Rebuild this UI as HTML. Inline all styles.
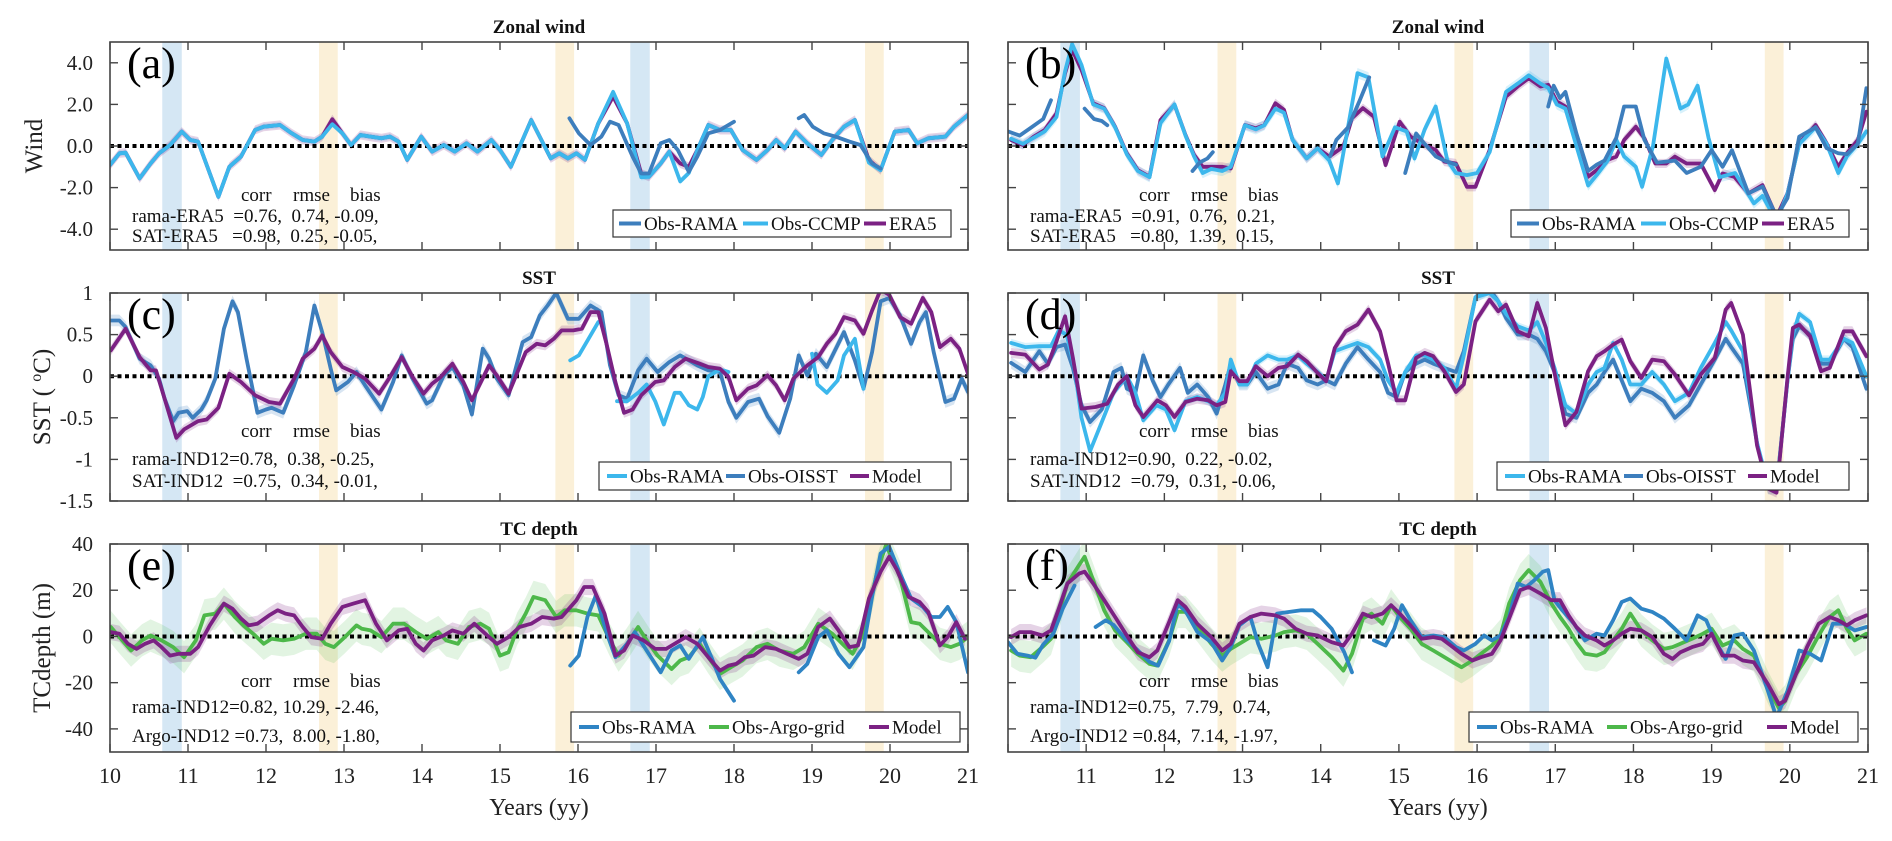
<!DOCTYPE html>
<html><head><meta charset="utf-8">
<style>
html,body{margin:0;padding:0;background:#fff;}
svg{display:block;font-family:"Liberation Serif","DejaVu Serif",serif;}
</style></head>
<body>
<svg id="fig" width="1892" height="841" viewBox="0 0 1892 841" xmlns="http://www.w3.org/2000/svg"></svg>
<script>
// ---------------- DATA ----------------
const aEraT=[10.00,10.12,10.20,10.38,10.52,10.63,10.77,10.92,11.03,11.13,11.39,11.53,11.68,11.86,11.97,12.18,12.33,12.47,12.62,12.72,12.85,12.98,13.09,13.21,13.34,13.48,13.59,13.70,13.81,13.99,14.13,14.28,14.42,14.57,14.71,14.89,15.00,15.14,15.40,15.65,15.76,15.87,15.98,16.09,16.26,16.45,16.63,16.81,16.91,17.06,17.17,17.31,17.42,17.53,17.67,17.82,17.96,18.11,18.29,18.43,18.54,18.65,18.79,18.94,19.12,19.26,19.41,19.55,19.73,19.88,20.06,20.24,20.35,20.49,20.71,20.82,21.00];
const aEraV=[-0.92,-0.35,-0.32,-1.56,-0.84,-0.35,0.05,0.69,0.29,0.21,-2.44,-1.0,-0.51,0.77,0.93,1.01,0.61,0.29,0.21,0.45,1.29,0.61,0.05,0.53,0.45,0.37,0.45,0.21,-0.67,0.45,-0.27,0.05,-0.27,0.13,-0.27,0.29,-0.19,-1.0,1.25,-0.59,-0.35,-0.59,-0.35,-0.67,1.09,2.38,1.09,-1.32,-1.48,-0.84,-0.27,-0.84,-1.0,-0.19,1.01,0.77,0.77,-0.19,-0.67,-0.19,0.29,-0.11,0.69,0.13,-0.43,0.29,0.93,1.25,-0.67,-1.16,0.69,0.77,0.13,0.37,0.45,0.93,1.49];
const aCcmpV=[-0.92,-0.35,-0.32,-1.56,-0.84,-0.35,0.05,0.69,0.29,0.21,-2.44,-1.0,-0.51,0.77,0.93,1.01,0.61,0.29,0.21,0.45,1.05,0.61,0.05,0.53,0.45,0.37,0.45,0.21,-0.67,0.45,-0.27,0.05,-0.27,0.13,-0.27,0.29,-0.19,-1.0,1.25,-0.59,-0.35,-0.59,-0.35,-0.67,1.09,2.6,1.09,-1.5,-1.48,-0.84,-0.27,-1.7,-1.3,-0.19,1.01,0.77,0.77,-0.19,-0.67,-0.19,0.29,-0.11,0.69,0.13,-0.43,0.29,0.93,1.25,-0.8,-1.16,0.69,0.77,0.13,0.37,0.45,0.93,1.49];
const aRamaT=[15.89,16.01,16.16,16.30,16.41,16.52,16.70,16.81,16.91,17.06,17.17,17.28,17.42,17.53,17.67,17.82,18.00,18.4,18.83,18.90,19.01,19.15,19.30,19.48,19.62,19.77,19.88];
const aRamaV=[1.33,0.61,0.05,0.45,1.17,1.01,-0.51,-1.32,-1.32,0.13,0.29,-0.19,-1.24,-0.51,0.61,0.77,1.17,null,1.33,1.49,0.93,0.61,0.45,0.21,0.05,-0.84,-1.08];

const bEraT=[10.04,10.19,10.33,10.47,10.62,10.73,10.82,10.94,11.09,11.23,11.37,11.52,11.66,11.81,11.95,12.13,12.27,12.38,12.49,12.60,12.74,12.85,13.03,13.17,13.28,13.42,13.53,13.64,13.82,13.96,14.11,14.29,14.40,14.54,14.68,14.83,15.01,15.15,15.33,15.47,15.58,15.73,15.87,15.98,16.16,16.37,16.52,16.66,16.81,16.91,17.02,17.13,17.27,17.42,17.53,17.67,17.78,17.88,18.03,18.14,18.28,18.42,18.53,18.68,18.86,19.04,19.14,19.29,19.47,19.65,19.83,19.97,20.12,20.33,20.47,20.62,20.73,20.87,20.98];
const bEraV=[0.29,0.05,0.45,0.77,1.57,3.5,4.63,3.66,2.06,1.82,0.93,-0.35,-1.16,-1.48,1.25,1.98,0.53,-0.43,-1.0,-1.0,-1.0,-1.08,1.01,0.85,1.01,2.06,1.74,0.29,-0.59,-0.11,-0.51,-0.03,1.33,1.82,1.41,-0.92,1.17,0.45,0.05,-0.19,-0.75,-0.84,-1.96,-1.96,-0.19,2.38,2.86,3.26,2.86,2.94,2.14,1.9,0.13,-1.48,-1.16,-0.67,-0.51,0.29,0.93,0.37,-0.84,-0.84,-0.51,-0.84,-0.84,-2.12,-1.32,-1.48,-2.28,-1.88,-3.4,-2.28,0.13,1.01,0.13,-1.0,-0.35,0.29,1.65];
const bCcmpT=[10.04,10.19,10.33,10.47,10.62,10.73,10.82,10.94,11.09,11.23,11.37,11.52,11.66,11.81,11.95,12.13,12.27,12.38,12.49,12.60,12.74,12.85,13.03,13.17,13.28,13.42,13.53,13.64,13.82,13.96,14.11,14.22,14.33,14.47,14.61,14.79,14.95,15.10,15.20,15.33,15.47,15.62,15.73,15.87,16.0,16.16,16.37,16.52,16.66,16.81,16.91,17.02,17.13,17.27,17.42,17.53,17.67,17.78,17.88,18.03,18.11,18.25,18.42,18.6,18.7,18.82,18.96,19.1,19.3,19.54,19.65,19.83,19.97,20.12,20.33,20.47,20.62,20.73,20.87,20.98];
const bCcmpV=[0.35,0.1,0.4,0.7,1.4,3.6,4.9,3.9,2.0,1.8,0.9,-0.4,-1.2,-1.5,1.1,2.0,0.5,-0.5,-1.3,-1.1,-1.2,-1.0,1.0,0.8,1.0,1.8,1.6,0.3,-0.6,-0.11,-0.7,-1.8,0.5,3.5,3.3,-0.5,0.9,0.7,-0.6,0.8,1.9,-0.7,-1.3,-1.4,-1.3,-0.3,2.6,3.0,3.4,3.0,2.8,2.0,1.8,0.0,-1.9,-1.4,-0.7,0.3,-0.5,-1.0,-1.96,0.0,4.2,1.8,2.0,2.9,0.4,-1.5,-1.3,-2.76,-2.4,-3.6,-2.3,0.1,0.9,0.1,-1.3,-0.5,0.1,0.7];
const bRamaT=[10.0,10.15,10.3,10.45,10.55,10.7,10.98,11.1,11.2,11.27,11.5,12.36,12.45,12.55,12.62,13.0,14.12,14.2,14.35,14.5,14.62,14.8,15.08,15.22,15.33,15.47,15.58,15.73,16.0,16.91,16.98,17.06,17.13,17.27,17.42,17.53,17.63,17.78,17.88,18.03,18.14,18.3,18.53,18.68,18.86,19.0,19.14,19.26,19.47,19.65,19.83,19.97,20.12,20.33,20.47,20.62,20.73,20.87,20.98];
const bRamaV=[0.7,0.5,0.9,1.3,2.2,null,1.8,1.3,1.2,1.0,null,-1.2,-0.8,-0.6,-0.3,null,-0.5,0.3,0.9,2.2,3.3,null,-1.3,0.6,0.1,-0.5,-0.7,-0.9,null,1.9,2.9,2.3,2.6,0.6,-1.2,-0.9,-0.7,0.4,1.9,1.9,0.3,-0.8,-0.7,-1.3,-1.0,-0.2,-1.0,-0.2,-2.28,-1.95,-3.4,-2.5,0.45,0.9,-0.1,-0.35,-0.4,0.1,2.78];

const cModT=[10.01,10.2,10.38,10.52,10.59,10.70,10.85,10.95,11.13,11.24,11.39,11.53,11.68,11.86,12.04,12.18,12.36,12.47,12.62,12.72,12.83,12.98,13.12,13.27,13.45,13.59,13.74,13.88,14.02,14.13,14.24,14.39,14.53,14.64,14.86,14.96,15.11,15.33,15.47,15.58,15.69,15.79,15.94,16.05,16.16,16.26,16.37,16.48,16.59,16.70,16.81,16.99,17.10,17.24,17.38,17.56,17.67,17.82,17.93,18.03,18.18,18.29,18.43,18.54,18.65,18.76,18.94,19.08,19.19,19.30,19.41,19.55,19.66,19.77,19.88,19.99,20.13,20.27,20.42,20.53,20.64,20.78,20.89,21.0];
const cModV=[0.31,0.57,0.23,0.07,0.07,-0.27,-0.74,-0.64,-0.54,-0.52,-0.38,0.03,-0.07,-0.23,-0.31,-0.33,-0.03,0.21,0.33,0.49,0.29,0.11,0.05,-0.03,-0.21,-0.01,0.23,-0.01,-0.21,-0.09,-0.01,0.15,-0.07,-0.29,0.13,0.01,-0.21,0.29,0.39,0.37,0.45,0.55,0.55,0.57,0.77,0.77,0.37,-0.07,-0.44,-0.40,-0.23,-0.07,-0.05,0.11,0.21,0.15,0.11,0.09,-0.01,-0.29,-0.15,-0.11,0.01,-0.11,-0.29,-0.03,0.13,0.23,0.39,0.51,0.71,0.67,0.51,0.79,1.04,0.98,0.71,0.63,0.94,0.77,0.35,0.45,0.33,0.03];
const cOiT=[10.01,10.12,10.2,10.38,10.52,10.63,10.70,10.81,10.88,10.99,11.06,11.17,11.24,11.35,11.46,11.57,11.64,11.75,11.89,12.0,12.07,12.22,12.36,12.51,12.62,12.72,12.83,12.9,13.05,13.16,13.27,13.48,13.63,13.74,13.88,14.06,14.13,14.28,14.39,14.53,14.64,14.78,14.86,14.96,15.11,15.29,15.40,15.51,15.61,15.72,15.87,16.01,16.16,16.30,16.41,16.52,16.63,16.77,16.88,17.02,17.17,17.31,17.42,17.53,17.67,17.82,17.93,18.03,18.18,18.32,18.43,18.58,18.72,18.83,18.94,19.05,19.19,19.41,19.55,19.66,19.77,19.88,19.99,20.13,20.27,20.38,20.46,20.56,20.71,20.82,20.92,21.0];
const cOiV=[0.67,0.67,0.59,0.21,0.13,-0.03,-0.27,-0.54,-0.44,-0.42,-0.5,-0.4,-0.29,-0.03,0.57,0.9,0.77,0.21,-0.44,-0.4,-0.38,-0.44,-0.11,0.29,0.85,0.53,0.09,-0.17,-0.07,0.05,-0.11,-0.4,-0.07,0.25,-0.03,-0.33,-0.29,0.01,0.11,-0.11,-0.46,0.33,0.21,-0.03,-0.23,0.41,0.47,0.73,0.85,1.0,0.69,0.69,0.85,0.77,0.13,-0.23,-0.27,0.07,0.21,0.05,0.17,0.25,0.19,0.13,0.07,0.05,-0.31,-0.5,-0.31,-0.27,-0.48,-0.68,-0.27,0.25,0.01,0.27,0.11,0.53,0.19,-0.15,0.29,0.9,0.94,0.73,0.39,0.65,0.77,0.29,-0.31,-0.27,-0.03,-0.19];
const cRamaT=[15.9,16.01,16.16,16.26,16.4,16.5,16.63,16.77,16.88,16.99,17.1,17.24,17.31,17.42,17.53,17.6,17.67,17.82,17.93,18.5,19.0,19.07,19.19,19.33,19.41,19.55,19.66];
const cRamaV=[0.19,0.25,0.49,0.65,null,-0.3,-0.3,-0.2,-0.1,-0.3,-0.58,-0.2,-0.2,-0.35,-0.4,-0.25,0.0,0.08,0.05,null,0.27,-0.1,-0.2,-0.05,0.25,0.45,-0.15];

const dModT=[10.04,10.22,10.40,10.51,10.62,10.73,10.83,10.94,11.12,11.27,11.41,11.52,11.63,11.73,11.91,12.02,12.13,12.27,12.42,12.56,12.67,12.78,12.85,12.96,13.06,13.17,13.32,13.46,13.57,13.71,13.82,13.96,14.07,14.18,14.32,14.47,14.61,14.76,14.86,14.97,15.08,15.22,15.33,15.44,15.58,15.73,15.83,15.98,16.16,16.27,16.37,16.52,16.66,16.77,16.88,16.99,17.13,17.27,17.42,17.53,17.63,17.74,17.85,17.96,18.10,18.24,18.39,18.53,18.71,18.86,19.04,19.18,19.25,19.40,19.58,19.72,19.83,19.97,20.04,20.12,20.26,20.40,20.51,20.69,20.80,20.98];
const dModV=[0.28,0.26,0.08,0.14,0.42,0.72,0.22,-0.39,-0.37,-0.33,-0.1,0,-0.35,-0.49,-0.29,-0.35,-0.49,-0.31,-0.27,-0.29,-0.35,-0.31,0.06,-0.06,-0.06,0.12,0,0.1,0.12,0.26,0.18,0.04,-0.06,0.34,0.54,0.62,0.8,0.54,0.16,-0.29,-0.29,0.22,0.28,0.24,0.06,-0.19,-0.1,0.66,0.92,0.78,0.86,0.54,0.48,0.88,0.58,0.04,-0.59,-0.43,0.06,0.24,0.3,0.38,0.44,0.18,-0.02,0.2,0.18,0.02,-0.23,0.02,0.22,0.8,0.88,0.5,-0.83,-1.35,-1.4,-0.02,0.58,0.62,0.48,0.06,0.1,0.54,0.54,0.24];
const dRamaT=[10.04,10.22,10.4,10.55,10.65,10.75,10.85,10.94,11.05,11.2,11.35,11.52,11.63,11.73,11.9,12.02,12.13,12.27,12.42,12.56,12.67,12.78,12.85,12.96,13.06,13.17,13.32,13.46,13.57,13.71,13.82,13.96,14.07,14.18,14.32,14.47,14.61,14.76,14.86,14.97,15.08,15.22,15.33,15.44,15.58,15.73,15.83,15.98,16.16,16.27,16.37,16.52,16.66,16.77,16.88,16.99,17.13,17.27,17.42,17.53,17.63,17.74,17.85,17.96,18.1,18.24,18.39,18.53,18.71,18.86,19.04,19.18,19.25,19.4,19.58,19.72,19.83,19.97,20.04,20.12,20.26,20.4,20.51,20.69,20.8,20.98];
const dRamaV=[0.4,0.35,0.36,0.36,0.55,0.5,0.1,-0.5,-0.9,-0.55,-0.2,0.0,-0.2,-0.53,-0.35,-0.4,-0.65,-0.3,-0.25,-0.3,-0.35,-0.2,0.2,-0.1,-0.1,0.15,0.25,0.2,0.2,0.25,0.15,0.05,-0.05,0.3,0.35,0.4,0.35,0.2,-0.05,-0.2,0.05,0.25,0.25,0.2,0.1,-0.15,0.25,0.95,1.0,0.9,0.75,0.6,0.55,0.65,0.4,0.1,-0.35,-0.45,-0.1,0.05,0.1,0.4,0.2,-0.1,-0.1,0.05,-0.1,-0.3,-0.2,0.1,0.4,0.65,0.55,0.3,-0.8,-1.3,-1.35,-0.05,0.5,0.75,0.65,0.2,0.2,0.45,0.4,0.0];
const dOiT=[10.04,10.22,10.4,10.51,10.62,10.73,10.83,10.94,11.05,11.2,11.35,11.45,11.52,11.63,11.73,11.85,11.95,12.05,12.2,12.3,12.42,12.56,12.67,12.78,12.85,12.96,13.06,13.17,13.32,13.46,13.57,13.71,13.82,13.96,14.07,14.18,14.32,14.47,14.61,14.76,14.86,14.97,15.08,15.22,15.33,15.44,15.58,15.73,15.83,15.98,16.16,16.27,16.37,16.52,16.66,16.77,16.88,16.99,17.13,17.27,17.42,17.53,17.63,17.74,17.85,17.96,18.1,18.24,18.39,18.53,18.71,18.86,19.04,19.18,19.25,19.4,19.58,19.72,19.83,19.97,20.04,20.12,20.26,20.4,20.51,20.69,20.8,20.98];
const dOiV=[0.16,0.05,0.3,0.15,0.35,0.38,0.1,-0.35,-0.55,-0.4,0.05,0.1,-0.15,-0.2,0.25,-0.05,-0.25,-0.1,0.1,-0.2,-0.1,-0.25,-0.45,-0.1,0.15,-0.1,-0.1,0.05,-0.15,-0.1,0.15,0.1,-0.05,-0.1,-0.05,-0.1,0.15,0.35,0.2,0.05,-0.2,-0.25,0.05,0.15,0.2,0.15,0.1,0.05,0.3,0.95,1.05,0.9,0.7,0.5,0.5,0.45,0.3,0.05,-0.45,-0.5,-0.2,-0.1,0.05,0.2,-0.05,-0.3,-0.15,-0.2,-0.3,-0.5,-0.35,-0.1,0.2,0.45,0.35,0.15,-0.8,-1.35,-1.35,-0.05,0.45,0.6,0.5,0.15,0.15,0.45,0.35,-0.15];

const eModT=[10.01,10.12,10.23,10.34,10.45,10.56,10.66,10.77,10.88,11.03,11.13,11.28,11.46,11.57,11.68,11.78,11.89,12.04,12.15,12.25,12.36,12.47,12.58,12.72,12.83,12.98,13.12,13.27,13.41,13.55,13.70,13.81,13.92,14.02,14.13,14.28,14.39,14.53,14.67,14.86,14.96,15.11,15.25,15.40,15.54,15.69,15.79,15.98,16.08,16.19,16.34,16.48,16.59,16.70,16.84,16.99,17.13,17.24,17.38,17.53,17.67,17.82,17.93,18.03,18.14,18.25,18.40,18.54,18.68,18.83,18.94,19.08,19.23,19.34,19.48,19.59,19.73,19.88,19.99,20.09,20.24,20.38,20.49,20.64,20.74,20.85,20.96];
const eModV=[1.9,1.2,-3.2,-5.4,-3.2,-1.7,-4.6,-8.3,-7.5,-7.5,-4.6,4.8,14.2,12.0,7.7,4.8,5.5,9.1,11.3,9.9,9.1,4.1,-0.3,-1.0,5.5,12.8,14.2,15.7,5.5,-1.7,2.6,3.3,-3.2,-6.1,-1.7,0.4,2.6,1.2,5.5,-0.3,-3.2,-0.3,4.1,5.5,8.4,7.7,8.4,15.7,21.4,21.4,9.9,-8.3,-6.1,0.4,-1.7,-5.4,-5.4,-3.2,-0.3,-3.2,-9.0,-14.8,-12.6,-11.9,-9.0,-8.3,-4.6,-5.4,-7.5,-9.7,-7.5,4.1,7.7,2.6,-4.6,-3.9,16.4,28.0,34.5,28.7,17.1,14.9,10.6,-3.9,-0.3,6.2,-1.0];
const eArgoT=[10.01,10.12,10.27,10.41,10.52,10.66,10.81,10.95,11.10,11.21,11.35,11.46,11.60,11.71,11.86,11.97,12.07,12.22,12.36,12.51,12.65,12.76,12.87,13.01,13.16,13.23,13.34,13.48,13.63,13.77,13.92,14.06,14.21,14.31,14.46,14.60,14.75,14.86,15.0,15.11,15.22,15.33,15.43,15.58,15.72,15.83,15.98,16.12,16.26,16.41,16.52,16.63,16.77,16.91,17.02,17.20,17.31,17.42,17.56,17.67,17.82,17.96,18.11,18.29,18.43,18.58,18.76,18.90,19.08,19.26,19.41,19.52,19.66,19.84,19.95,20.13,20.27,20.38,20.49,20.64,20.78,20.89,21.0];
const eArgoV=[4.1,-0.3,-6.1,-1.7,0.4,-1.7,-4.6,-9.0,-1.7,9.1,9.9,14.2,8.4,4.8,0.4,-3.2,-1.0,-1.7,-1.0,1.2,1.2,-3.2,-4.6,-0.3,4.8,3.3,2.6,-0.3,5.5,5.5,1.9,-1.0,1.9,-1.7,-3.2,4.1,5.5,3.3,-8.3,-6.8,3.3,9.9,17.1,15.7,8.4,11.3,11.3,9.9,9.1,-1.7,-8.3,-3.2,4.1,-3.2,-8.3,-14.1,-10.4,-9.0,-3.2,-9.0,-16.2,-13.3,-10.4,-4.6,-3.2,-6.1,-7.5,-4.6,5.5,1.2,-3.9,-7.5,1.2,28.7,39.6,25.5,6.2,5.5,1.9,-3.2,-4.6,-3.2,-0.3];
const eRamaT=[15.90,16.01,16.12,16.23,16.37,16.48,16.63,16.73,16.88,17.06,17.20,17.31,17.42,17.60,17.71,17.82,18.0,18.4,18.83,18.94,19.08,19.19,19.34,19.48,19.66,19.77,19.88,19.99,20.13,20.27,20.42,20.53,20.64,20.74,20.85,21.0];
const eRamaV=[-12.6,-8.3,8.4,17.8,1.2,-9.0,-3.2,1.9,-6.1,-15.5,-6.1,-3.9,-9.7,-0.3,-9.0,-18.4,-27.8,null,-15.5,-11.9,-0.3,2.6,-7.5,-13.3,-4.6,17.1,35.9,38.8,27.2,16.4,12.8,8.4,8.4,12.8,6.2,-15.5];

const fModT=[10.04,10.15,10.29,10.44,10.55,10.65,10.76,10.91,10.98,11.09,11.23,11.37,11.52,11.66,11.81,11.91,12.06,12.17,12.27,12.42,12.60,12.74,12.85,12.96,13.10,13.24,13.42,13.53,13.68,13.82,13.96,14.14,14.29,14.40,14.54,14.65,14.79,14.90,15.01,15.15,15.29,15.44,15.55,15.69,15.80,15.94,16.05,16.19,16.30,16.41,16.55,16.66,16.81,16.95,17.06,17.17,17.27,17.38,17.53,17.63,17.74,17.85,17.96,18.10,18.24,18.39,18.50,18.60,18.75,18.89,19.0,19.14,19.29,19.40,19.54,19.72,19.86,19.94,20.08,20.22,20.37,20.51,20.62,20.73,20.83,20.98];
const fModV=[-0.3,1.9,1.9,0.4,2.6,12.0,22.9,27.2,28.0,22.9,15.7,8.4,0.4,-6.8,-9.0,-6.1,6.2,15.7,12.8,5.5,-0.3,-6.1,-3.2,5.5,8.4,9.9,9.1,7.7,3.3,1.2,0.4,-2.5,-3.9,1.2,9.9,8.4,9.9,13.5,9.9,4.8,-1.0,-0.3,-1.0,-4.6,-7.5,-10.4,-9.0,-7.5,-1.7,7.7,20.0,21.4,18.6,15.7,15.7,9.1,4.1,0.4,-1.7,-3.9,-1.7,1.2,3.3,2.6,-0.3,-7.5,-9.7,-6.8,-4.6,-3.2,1.2,-8.3,-8.3,-10.4,-11.2,-20.6,-29.3,-27.8,-16.2,-4.6,5.5,8.4,7.0,4.8,7.0,9.1];
const fArgoV=[-6.1,-8.3,-9.0,-4.6,-1.0,9.9,22.9,30.9,34.5,24.4,11.3,2.6,-2.5,-7.5,-11.9,-12.6,-1.7,10.6,10.6,4.8,-3.2,-8.3,-5.4,-3.2,-0.3,-1.0,0.4,1.9,2.6,1.2,-3.2,-9.0,-14.8,-7.5,7.7,9.9,5.5,13.5,8.4,3.3,-3.2,-6.1,-8.3,-11.2,-13.3,-10.4,-7.5,-3.9,0.4,14.2,24.4,28.7,23.6,14.2,8.4,3.3,-2.5,-7.5,-8.3,-6.8,-1.7,3.3,9.9,2.6,-1.7,-5.4,-4.6,-3.2,-1.0,1.2,3.3,-3.9,-1.7,-5.4,-8.3,-22,-31,-28,-16.2,-9.0,0.4,8.4,11.3,3.3,-1.7,1.2];
const fRamaT=[10.0,10.12,10.25,10.35,10.45,10.58,10.7,10.85,11.0,11.12,11.25,11.35,11.5,11.66,11.81,11.92,12.06,12.17,12.27,12.42,12.6,12.74,12.85,12.96,13.1,13.2,13.32,13.44,13.6,13.75,13.9,14.0,14.14,14.3,14.4,14.5,14.68,14.83,14.94,15.04,15.15,15.29,15.44,15.58,15.73,15.83,15.98,16.09,16.19,16.30,16.41,16.52,16.63,16.73,16.84,16.91,16.99,17.09,17.24,17.38,17.53,17.63,17.74,17.85,17.96,18.10,18.24,18.39,18.53,18.68,18.82,18.93,19.04,19.18,19.29,19.40,19.54,19.72,19.83,19.97,20.12,20.26,20.40,20.55,20.69,20.83,20.98];
const fRamaV=[-2.5,-7.5,-8.3,-9.2,-3.5,1.2,12,22,null,4.1,7,5,-1,-6,-11,-12.6,-2,14,11,2,-2.5,-10.4,-4.6,4.8,8.4,-3.2,-13.3,9.9,10.6,11.3,11.3,8.4,3.3,-6.8,-15.5,null,-1.7,-3.9,3.3,13.5,7.0,-0.3,0.4,-0.3,-4.6,-6.1,-3.2,0.4,-1.7,0.4,8.4,22.9,21.4,24.3,28.0,28.7,15.7,11.3,5.5,-1.7,1.2,0.4,7.0,14.9,16.4,12.0,10.6,7.7,3.3,-1.7,9.1,7.0,-1.7,-9.7,0.4,1.2,-6.1,-23.5,-35.1,-23.5,-6.1,-7.5,-10.4,5.5,5.5,2.6,4.1];

const yearTicks=[10,11,12,13,14,15,16,17,18,19,20,21];
const blueBands=[[10.67,10.92],[16.67,16.92]];
const orangeBands=[[12.68,12.92],[15.71,15.95],[19.68,19.92]];

// ---------------- LAYOUT ----------------
const C={purple:'#7b2183',dblue:'#3d7ebd',lblue:'#3cb7ec',tblue:'#2f84c4',green:'#4db84a'};
const cols=[{x0:110,x1:968},{x0:1008,x1:1868}];
const rows=[{y0:42,y1:250},{y0:293,y1:501},{y0:544,y1:752}];
const NS='http://www.w3.org/2000/svg';
const svg=document.getElementById('fig');
function mk(tag,attrs,parent,txt){const e=document.createElementNS(NS,tag);for(const k in attrs)e.setAttribute(k,attrs[k]);if(txt!==undefined)e.textContent=txt;(parent||svg).appendChild(e);return e;}

const panels=[
 {id:'a',col:0,row:0,title:'Zonal wind',ylim:[-5,5],yticks:[-4,-2,0,2,4],ylab:['4.0','2.0','0.0','-2.0','-4.0'].reverse(),
  series:[{t:aEraT,v:aEraV,c:C.purple,name:'ERA5',band:0.22},{t:aEraT,v:aCcmpV,c:C.lblue,name:'Obs-CCMP',band:0.15},{t:aRamaT,v:aRamaV,c:C.dblue,name:'Obs-RAMA'}],
  legend:['Obs-RAMA','Obs-CCMP','ERA5'],legC:[C.dblue,C.lblue,C.purple],
  stats:['rama-ERA5  =0.76,  0.74, -0.09,','SAT-ERA5   =0.98,  0.25, -0.05,'],statY:[159,180,200],
  leg:{x:503,w:338,y:168,h:27,lx:[6,130,251],lw:[22,25,22]}},
 {id:'b',col:1,row:0,title:'Zonal wind',ylim:[-5,5],yticks:[-4,-2,0,2,4],
  series:[{t:bEraT,v:bEraV,c:C.purple,name:'ERA5',band:0.22},{t:bCcmpT,v:bCcmpV,c:C.lblue,name:'Obs-CCMP',band:0.25},{t:bRamaT,v:bRamaV,c:C.dblue,name:'Obs-RAMA'}],
  legend:['Obs-RAMA','Obs-CCMP','ERA5'],legC:[C.dblue,C.lblue,C.purple],
  stats:['rama-ERA5  =0.91,  0.76,  0.21,','SAT-ERA5   =0.80,  1.39,  0.15,'],statY:[159,180,200],
  leg:{x:503,w:338,y:168,h:27,lx:[6,130,251],lw:[22,25,22]}},
 {id:'c',col:0,row:1,title:'SST',ylim:[-1.5,1],yticks:[-1.5,-1,-0.5,0,0.5,1],ylab:['-1.5','-1','-0.5','0','0.5','1'],
  series:[{t:cOiT,v:cOiV,c:C.dblue,name:'Obs-OISST',band:0.07},{t:cRamaT,v:cRamaV,c:C.lblue,name:'Obs-RAMA'},{t:cModT,v:cModV,c:C.purple,name:'Model',band:0.06}],
  legend:['Obs-RAMA','Obs-OISST','Model'],legC:[C.lblue,C.dblue,C.purple],
  stats:['rama-IND12=0.78,  0.38, -0.25,','SAT-IND12  =0.75,  0.34, -0.01,'],statY:[144,172,194],
  leg:{x:489,w:352,y:169,h:28,lx:[8,127,251],lw:[20,19,19]}},
 {id:'d',col:1,row:1,title:'SST',ylim:[-1.5,1],yticks:[-1.5,-1,-0.5,0,0.5,1],
  series:[{t:dOiT,v:dOiV,c:C.dblue,name:'Obs-OISST',band:0.07},{t:dRamaT,v:dRamaV,c:C.lblue,name:'Obs-RAMA',band:0.05},{t:dModT,v:dModV,c:C.purple,name:'Model',band:0.06}],
  legend:['Obs-RAMA','Obs-OISST','Model'],legC:[C.lblue,C.dblue,C.purple],
  stats:['rama-IND12=0.90,  0.22, -0.02,','SAT-IND12  =0.79,  0.31, -0.06,'],statY:[144,172,194],
  leg:{x:489,w:352,y:169,h:28,lx:[8,127,251],lw:[20,19,19]}},
 {id:'e',col:0,row:2,title:'TC depth',ylim:[-50,40],yticks:[-40,-20,0,20,40],ylab:['-40','-20','0','20','40'],
  series:[{t:eArgoT,v:eArgoV,c:C.green,name:'Obs-Argo-grid',band:7,bandOp:0.16},{t:eRamaT,v:eRamaV,c:C.tblue,name:'Obs-RAMA'},{t:eModT,v:eModV,c:C.purple,name:'Model',band:3.5}],
  legend:['Obs-RAMA','Obs-Argo-grid','Model'],legC:[C.tblue,C.green,C.purple],
  stats:['rama-IND12=0.82, 10.29, -2.46,','Argo-IND12 =0.73,  8.00, -1.80,'],statY:[143,169,198],
  leg:{x:461,w:389,y:168,h:30,lx:[8,138,298],lw:[20,20,20]}},
 {id:'f',col:1,row:2,title:'TC depth',ylim:[-50,40],yticks:[-40,-20,0,20,40],
  series:[{t:fModT,v:fArgoV,c:C.green,name:'Obs-Argo-grid',band:7,bandOp:0.16},{t:fRamaT,v:fRamaV,c:C.tblue,name:'Obs-RAMA'},{t:fModT,v:fModV,c:C.purple,name:'Model',band:3.5}],
  legend:['Obs-RAMA','Obs-Argo-grid','Model'],legC:[C.tblue,C.green,C.purple],
  stats:['rama-IND12=0.75,  7.79,  0.74,','Argo-IND12 =0.84,  7.14, -1.97,'],statY:[143,169,198],
  leg:{x:461,w:389,y:168,h:30,lx:[8,138,298],lw:[20,20,20]}}
];

panels.forEach(p=>{
  const {x0,x1}=cols[p.col],{y0,y1}=rows[p.row];
  const xs=t=>x0+(t-10)/11*(x1-x0);
  const ys=v=>y1-(v-p.ylim[0])/(p.ylim[1]-p.ylim[0])*(y1-y0);
  const g=mk('g',{});
  
  
  const tt=mk('text',{x:(x0+x1)/2,y:y0-9,'text-anchor':'middle','font-size':19,'font-weight':'bold',fill:'#111'},g,p.title);
  
  
  const cp=mk('clipPath',{id:'clip-'+p.id},g);
  mk('rect',{x:x0,y:y0,width:x1-x0,height:y1-y0},cp);
  const plot=mk('g',{'clip-path':'url(#clip-'+p.id+')'},g);
  blueBands.forEach((b,i)=>{const r=mk('rect',{x:xs(b[0]),y:y0,width:xs(b[1])-xs(b[0]),height:y1-y0,fill:'#d5e7f4'},plot);
    
    });
  orangeBands.forEach((b,i)=>{const r=mk('rect',{x:xs(b[0]),y:y0,width:xs(b[1])-xs(b[0]),height:y1-y0,fill:'#fbf0d8'},plot);
    
    });
  p.series.forEach(s=>{
    if(!s.band)return;
    let seg=[];
    const flush=()=>{if(seg.length>1){const up=seg.map(q=>xs(q[0])+','+ys(q[1]+s.band));const lo=seg.slice().reverse().map(q=>xs(q[0])+','+ys(q[1]-s.band));
      const poly=mk('polygon',{points:up.concat(lo).join(' '),fill:s.c,'fill-opacity':s.bandOp||0.2,stroke:'none'},plot);
      
      }seg=[];};
    for(let i=0;i<Math.min(s.t.length,s.v.length);i++){if(s.v[i]===null)flush();else seg.push([s.t[i],s.v[i]]);}
    flush();
  });
  const zl=mk('line',{x1:x0,x2:x1,y1:ys(0),y2:ys(0),stroke:'#000','stroke-width':4,'stroke-dasharray':'4 3.5'},plot);
  
  
  p.series.forEach(s=>{
    let d='',pen=false;
    for(let i=0;i<Math.min(s.t.length,s.v.length);i++){
      if(s.v[i]===null){pen=false;continue;}
      d+=(pen?'L':'M')+xs(s.t[i]).toFixed(1)+','+ys(s.v[i]).toFixed(1);pen=true;}
    const path=mk('path',{d:d,fill:'none',stroke:s.c,'stroke-width':3.8,'stroke-linejoin':'round','stroke-linecap':'round'},plot);
    
    
  });
  const box=mk('rect',{x:x0,y:y0,width:x1-x0,height:y1-y0,fill:'none',stroke:'#444','stroke-width':1.6},g);
  
  
  yearTicks.forEach(t=>{
    const x=xs(t);
    mk('line',{x1:x,x2:x,y1:y1,y2:y1-8,stroke:'#444','stroke-width':1.4},g);
    mk('line',{x1:x,x2:x,y1:y0,y2:y0+8,stroke:'#444','stroke-width':1.4},g);
    if(p.row===2&&!(p.col===1&&t===10)){
      const tl=mk('text',{x:x,y:783,'text-anchor':'middle','font-size':22,fill:'#222'},g,String(t));
      
      
    }
  });
  p.yticks.forEach((v,i)=>{
    const y=ys(v);
    mk('line',{x1:x0,x2:x0+8,y1:y,y2:y,stroke:'#444','stroke-width':1.4},g);
    mk('line',{x1:x1,x2:x1-8,y1:y,y2:y,stroke:'#444','stroke-width':1.4},g);
    if(p.ylab){
      const yl=mk('text',{x:x0-17,y:y+7,'text-anchor':'end','font-size':21,fill:'#222'},g,p.ylab[i]);
      
      
    }
  });
  const pl=mk('text',{x:x0+17,y:y0+36,'font-size':44,fill:'#000'},g,'('+p.id+')');
  
  
  const st=mk('g',{'font-size':19,fill:'#111'},g);
  
  
  mk('text',{x:x0+131,y:y0+p.statY[0]},st,'corr');
  mk('text',{x:x0+183,y:y0+p.statY[0]},st,'rmse');
  mk('text',{x:x0+240,y:y0+p.statY[0]},st,'bias');
  mk('text',{x:x0+22,y:y0+p.statY[1],style:'white-space:pre'},st,p.stats[0]);
  mk('text',{x:x0+22,y:y0+p.statY[2],style:'white-space:pre'},st,p.stats[1]);
  const L=p.leg,lg=mk('g',{},g);
  
  
  mk('rect',{x:x0+L.x,y:y0+L.y,width:L.w,height:L.h,fill:'#fff',stroke:'#333','stroke-width':1.2},lg);
  const cy=y0+L.y+L.h/2;
  p.legend.forEach((nm,i)=>{
    const e=mk('g',{},lg);
    
    
    const lx=x0+L.x+L.lx[i];
    mk('line',{x1:lx,x2:lx+L.lw[i],y1:cy,y2:cy,stroke:p.legC[i],'stroke-width':4},e);
    mk('text',{x:lx+L.lw[i]+3,y:cy+6.5,'font-size':19,fill:'#111'},e,nm);
  });
});
function label(txt,x,y,rot,size,name){const t=mk('text',{x:x,y:y,'text-anchor':'middle','font-size':size,fill:'#222',transform:rot?`rotate(-90 ${x} ${y})`:''});return t;}
const w=label('',42,146,true,25,'y-axis-title-wind');w.textContent='Wind';
const s=label('',50,397,true,25,'y-axis-title-sst');
mk('tspan',{},s,'SST ( ');mk('tspan',{'font-size':16,dy:-9},s,'o');mk('tspan',{dy:9},s,'C)');
const tc=label('',50,648,true,25,'y-axis-title-tcdepth');tc.textContent='TCdepth (m)';
const xl1=label('',539,815,false,24,'x-axis-title-left');xl1.textContent='Years (yy)';
const xl2=label('',1438,815,false,24,'x-axis-title-right');xl2.textContent='Years (yy)';
</script>
</body></html>
